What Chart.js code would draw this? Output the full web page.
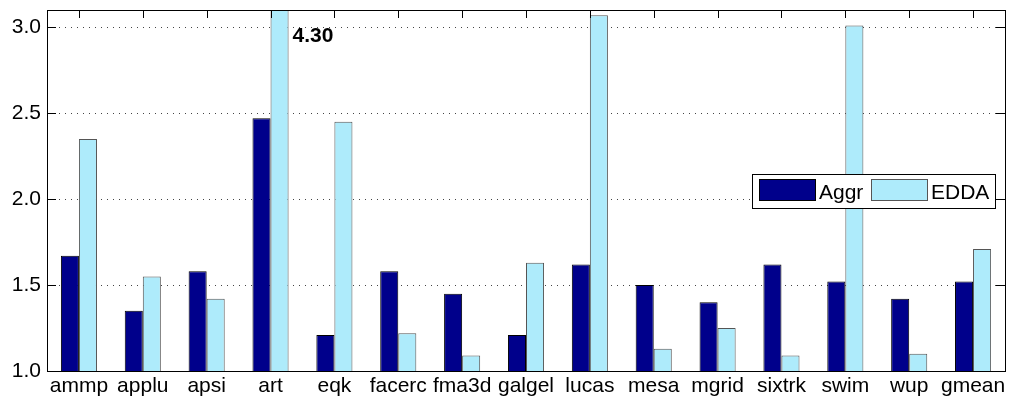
<!DOCTYPE html>
<html lang="en">
<head>
    <meta charset="UTF-8">
    <script src="https://cdn.jsdelivr.net/npm/chart.js"></script>
    <title>Aggr vs EDDA</title>
    <style>
        html, body { margin: 0; padding: 0; background: #fff; }
        #wrap { width: 1009px; height: 402px; }
    </style>
</head>
<body>
    <div id="wrap"><canvas id="barChart" width="1009" height="402"></canvas></div>
    <script>
        const benchmarks = ['ammp', 'applu', 'apsi', 'art', 'eqk', 'facerc', 'fma3d', 'galgel',
            'lucas', 'mesa', 'mgrid', 'sixtrk', 'swim', 'wup', 'gmean'];
        const aggrValues = [1.67, 1.35, 1.58, 2.47, 1.21, 1.58, 1.45, 1.21, 1.62, 1.50, 1.40, 1.62, 1.52, 1.42, 1.52];
        const eddaValues = [2.35, 1.55, 1.42, 4.30, 2.45, 1.22, 1.09, 1.63, 3.07, 1.13, 1.25, 1.09, 3.01, 1.10, 1.71];
        const yTicks = [1.0, 1.5, 2.0, 2.5, 3.0];
        const yMin = 1.0, yMax = 3.1;

        const FONT = '"Liberation Sans", Arial, sans-serif';
        const darkBlue = '#00008b';
        const lightBlue = '#aeebfb';

        // frame, inner ticks, legend box and the clipped-bar label
        const framePlugin = {
            id: 'frame',
            afterDraw(chart) {
                const ctx = chart.ctx;
                const a = chart.chartArea;
                const x = chart.scales.x, y = chart.scales.y;
                ctx.save();
                ctx.strokeStyle = '#000';
                ctx.lineWidth = 1;
                ctx.beginPath();
                benchmarks.forEach((_, i) => {
                    const px = Math.round(x.getPixelForValue(i)) + 0.5;
                    ctx.moveTo(px, a.top);
                    ctx.lineTo(px, a.top + 8);
                });
                yTicks.forEach(v => {
                    const py = Math.round(y.getPixelForValue(v)) + 0.5;
                    ctx.moveTo(a.left, py);
                    ctx.lineTo(a.left + 9, py);
                    ctx.moveTo(a.right, py);
                    ctx.lineTo(a.right - 9, py);
                });
                ctx.stroke();
                ctx.strokeRect(Math.round(a.left) + 0.5, Math.round(a.top) + 0.5,
                    Math.round(a.right - a.left), Math.round(a.bottom - a.top));

                // value label for bars that run off the top
                const meta = chart.getDatasetMeta(1);
                ctx.font = 'bold 21px ' + FONT;
                ctx.fillStyle = '#000';
                ctx.textBaseline = 'alphabetic';
                ctx.textAlign = 'left';
                eddaValues.forEach((v, i) => {
                    if (v > yMax) {
                        const bar = meta.data[i];
                        ctx.fillText(v.toFixed(2), bar.x + bar.width / 2 + 4, a.top + 32);
                    }
                });

                // legend box
                const lx = a.right - 253, ly = 174, lw = 243, lh = 34;
                ctx.fillStyle = '#fff';
                ctx.fillRect(lx, ly, lw, lh);
                ctx.strokeRect(lx + 0.5, ly + 0.5, lw, lh);
                const items = chart.data.datasets;
                const offsets = [7, 119];
                ctx.font = '21px ' + FONT;
                ctx.textBaseline = 'alphabetic';
                items.forEach((ds, i) => {
                    const px = lx + offsets[i];
                    ctx.fillStyle = ds.backgroundColor;
                    ctx.fillRect(px, ly + 5, 56, 22);
                    ctx.strokeStyle = ds.borderColor;
                    ctx.strokeRect(px + 0.5, ly + 5.5, 56, 21);
                    ctx.fillStyle = '#000';
                    ctx.fillText(ds.label, px + 60, ly + 25);
                });
                ctx.restore();
            }
        };

        new Chart(document.getElementById('barChart').getContext('2d'), {
            type: 'bar',
            data: {
                labels: benchmarks,
                datasets: [{
                    label: 'Aggr',
                    data: aggrValues,
                    backgroundColor: darkBlue,
                    borderColor: '#000',
                    borderWidth: 1
                }, {
                    label: 'EDDA',
                    data: eddaValues,
                    backgroundColor: lightBlue,
                    borderColor: '#555',
                    borderWidth: 1
                }]
            },
            options: {
                responsive: false,
                animation: false,
                layout: { padding: { left: 0, right: 4, top: 10, bottom: 0 } },
                datasets: { bar: { categoryPercentage: 0.565, barPercentage: 1.0 } },
                plugins: {
                    legend: { display: false },
                    tooltip: { enabled: false }
                },
                scales: {
                    x: {
                        grid: { display: false, drawTicks: false },
                        border: { display: false },
                        ticks: {
                            color: '#000',
                            padding: 3,
                            maxRotation: 0,
                            autoSkip: false,
                            font: { family: FONT, size: 21 }
                        },
                        afterFit(scale) { scale.height = 31; }
                    },
                    y: {
                        min: yMin,
                        max: yMax,
                        grid: {
                            color: '#444',
                            lineWidth: 1,
                            drawTicks: false
                        },
                        border: { display: false, dash: [1, 5] },
                        ticks: {
                            color: '#000',
                            padding: 6,
                            font: { family: FONT, size: 21 },
                            callback: v => v.toFixed(1)
                        },
                        afterBuildTicks(scale) {
                            scale.ticks = yTicks.map(v => ({ value: v }));
                        },
                        afterFit(scale) {
                            scale.width = 47;
                            scale.paddingTop = 0;
                            scale.paddingBottom = 0;
                        }
                    }
                }
            },
            plugins: [framePlugin]
        });
    </script>
</body>
</html>
